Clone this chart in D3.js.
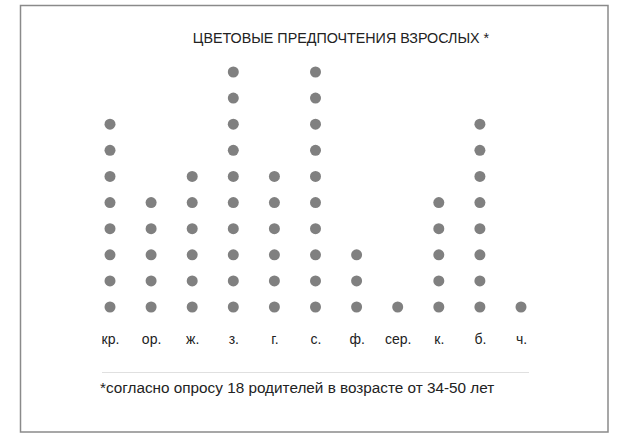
<!DOCTYPE html>
<html><head><meta charset="utf-8">
<script src="https://cdn.jsdelivr.net/npm/d3@7"></script>
<style>body{margin:0;background:#fff}text{font-family:"Liberation Sans",Arial,sans-serif}</style>
</head><body><svg id="c" width="624" height="438"></svg>
<script>
const categories = ["кр.","ор.","ж.","з.","г.","с.","ф.","сер.","к.","б.","ч."];
const counts = [8,5,6,10,6,10,3,1,5,8,1];
const title = "ЦВЕТОВЫЕ ПРЕДПОЧТЕНИЯ ВЗРОСЛЫХ *";
const note = "*согласно опросу 18 родителей в возрасте от 34-50 лет";

const svg = d3.select("#c");
svg.append("rect").attr("x",20.5).attr("y",5.5).attr("width",587.5).attr("height",426.5)
  .attr("fill","#fff").attr("stroke","#8a8a8a").attr("stroke-width",1.5);

const x = d3.scalePoint().domain(categories).range([110,521]);
const y = d3.scaleLinear().domain([1,10]).range([307,72]);

svg.append("text").attr("x",341).attr("y",43).attr("text-anchor","middle")
  .attr("font-size",14.3).attr("fill","#222").text(title);

const pts = [];
categories.forEach((c,i)=>{ for(let k=1;k<=counts[i];k++) pts.push({c,k}); });
svg.selectAll("circle.d").data(pts).join("circle").attr("class","d")
  .attr("cx",d=>x(d.c)).attr("cy",d=>y(d.k)).attr("r",5.5).attr("fill","#808080");

const ax = svg.append("g").attr("transform","translate(0,344)")
  .call(d3.axisBottom(x).tickSize(0).tickPadding(0));
ax.select(".domain").remove();
ax.selectAll("text").attr("font-size",14).attr("fill","#222").attr("dy","0")
  .style("font-family","'Liberation Sans',Arial,sans-serif");

svg.append("line").attr("x1",102).attr("x2",529).attr("y1",372.5).attr("y2",372.5)
  .attr("stroke","#e0e0e0").attr("stroke-width",1);
svg.append("text").attr("x",100).attr("y",393).attr("font-size",15.3).attr("fill","#222").text(note);
</script></body></html>
